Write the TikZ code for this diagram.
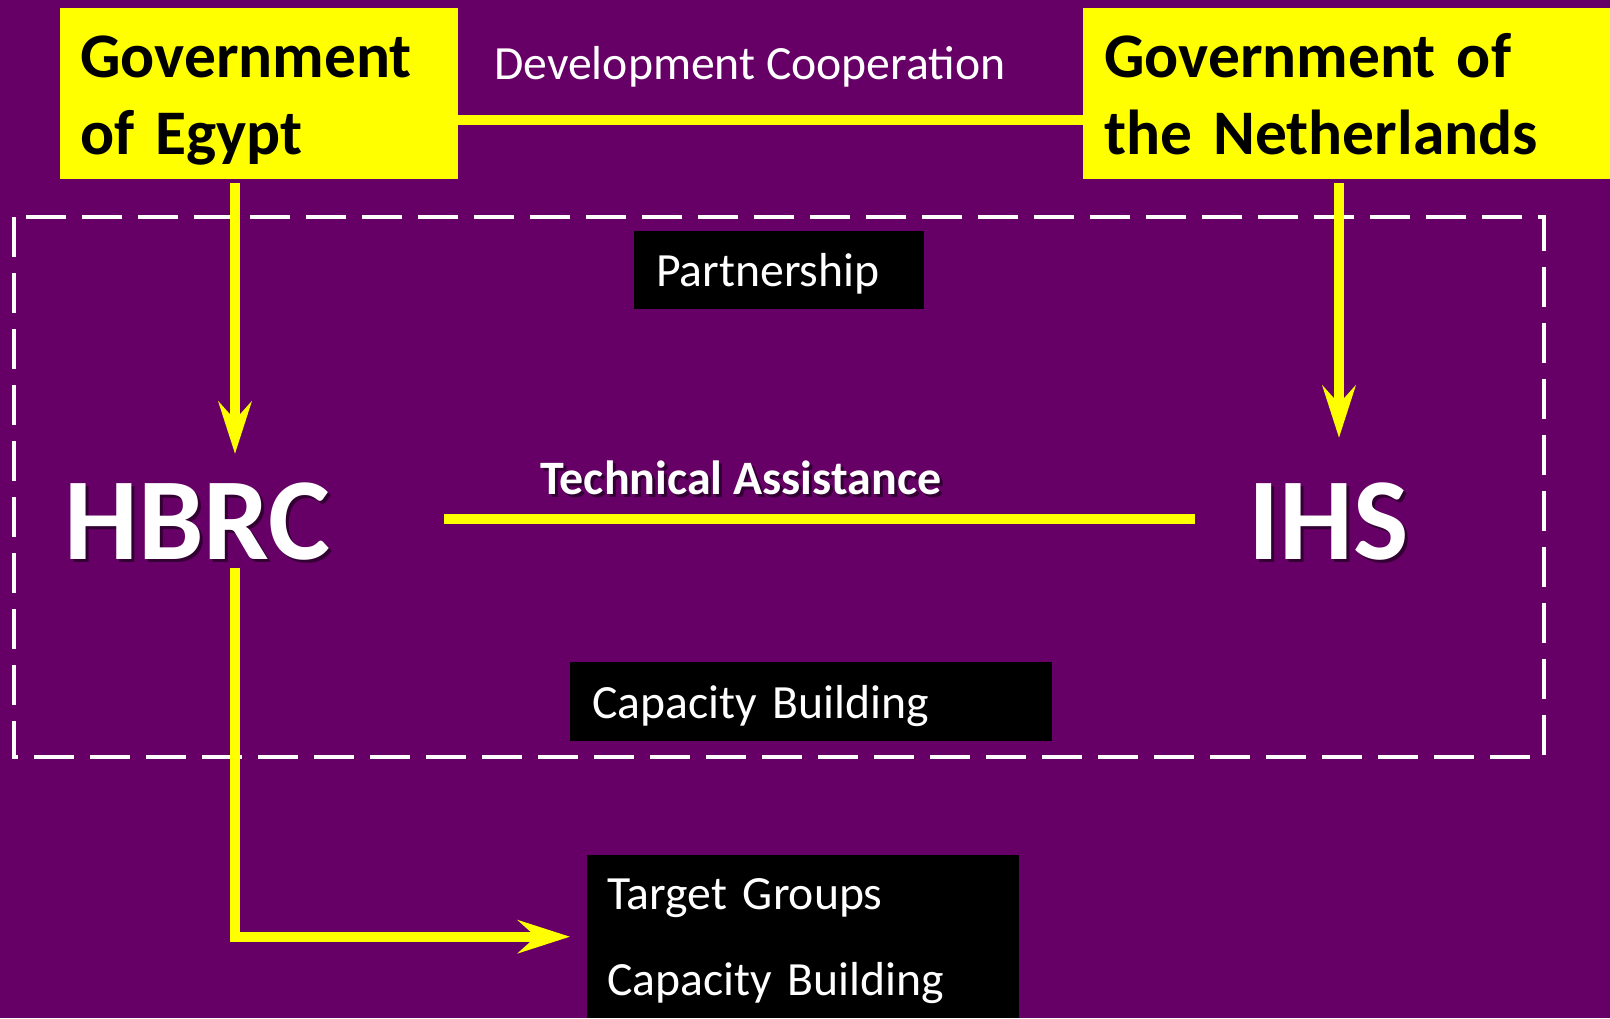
\documentclass[tikz,border=0pt]{standalone}
\usepackage{fontspec}
\setmainfont{Carlito}
\usetikzlibrary{arrows.meta}
\definecolor{bgpurple}{RGB}{102,0,102}
\definecolor{yel}{RGB}{255,255,0}
\definecolor{txshadow}{RGB}{50,0,50}
\newcommand\shadowtext[1]{\makebox[0pt][l]{\hspace{3pt}\raisebox{-3pt}{\textcolor{txshadow}{#1}}}#1}
\begin{document}
\begin{tikzpicture}[x=1pt,y=-1pt,
  govbox/.style={fill=yel, text=black, font=\fontsize{63.5}{77}\selectfont\bfseries, inner ysep=0pt, anchor=north west},
  blackbox/.style={fill=black, text=white, font=\fontsize{47.7}{86}\selectfont, inner ysep=0pt, anchor=north west},
  bigtext/.style={text=white, font=\fontsize{117}{120}\selectfont\bfseries, inner sep=0pt, anchor=base west},
  plaintext/.style={text=white, font=\fontsize{47.7}{56}\selectfont, inner sep=0pt, anchor=base west},
  yline/.style={draw=yel, line width=10pt},
  yarrow/.style={yline, -{Stealth[length=52pt,width=33pt,inset=18pt]}},
  dashbox/.style={draw=white, line width=4.5pt, dash pattern=on 40pt off 16pt}
]
\fill[bgpurple] (0,0) rectangle (1610,1018);
\useasboundingbox (0,0) rectangle (1610,1018);

\draw[dashbox] (14,217) rectangle (1544,757);

\node[govbox, inner xsep=20pt, text width=358pt] (egypt) at (60,8)
  {\raggedright\noindent\rule{0pt}{69pt}Government\\of Egypt\rule[-25pt]{0pt}{0pt}};
\node[govbox, inner xsep=21pt, text width=485pt] (neth) at (1083,8)
  {\raggedright\noindent\rule{0pt}{69pt}Government of\\the Netherlands\rule[-25pt]{0pt}{0pt}};

\node[plaintext] (devcoop) at (494,79) {Development Cooperation};

\node[blackbox, inner xsep=22pt, text width=246pt] (partner) at (634,231)
  {\raggedright\noindent\rule{0pt}{55pt}Partnership\rule[-23pt]{0pt}{0pt}};
\node[blackbox, inner xsep=22pt, text width=438pt] (capacity) at (570,662)
  {\raggedright\noindent\rule{0pt}{56pt}Capacity Building\rule[-23pt]{0pt}{0pt}};
\node[blackbox, inner xsep=20pt, text width=392pt] (target) at (587,855)
  {\raggedright\noindent\rule{0pt}{54pt}Target Groups\\Capacity Building\rule[-23pt]{0pt}{0pt}};

\node[bigtext, text height=105pt, text depth=9pt] (hbrc) at (64,559) {\shadowtext{HBRC}};
\node[bigtext, text height=121pt, text depth=9pt] (ihs) at (1248,559) {\shadowtext{IHS}};
\node[plaintext, font=\fontsize{48}{56}\selectfont\bfseries] (ta) at (540,494) {\shadowtext{Technical Assistance}};

\coordinate (egyptport) at ([xshift=175pt]egypt.south west);
\coordinate (nethport) at ([xshift=256pt]neth.south west);

\draw[yline] ([yshift=-26pt]egypt.east) -- ([yshift=-26pt]neth.west);
\draw[yarrow] ([yshift=-4pt]egyptport) -- (egyptport |- hbrc.north);
\draw[yarrow] ([yshift=-4pt]nethport) -- (nethport |- ihs.north);
\draw[yline] ([xshift=113pt,yshift=40pt]hbrc.base east) -- ([xshift=-53pt,yshift=40pt]ihs.base west);
\draw[yarrow] (egyptport |- hbrc.south) |- ([xshift=-17pt]target.west);
\end{tikzpicture}
\end{document}
